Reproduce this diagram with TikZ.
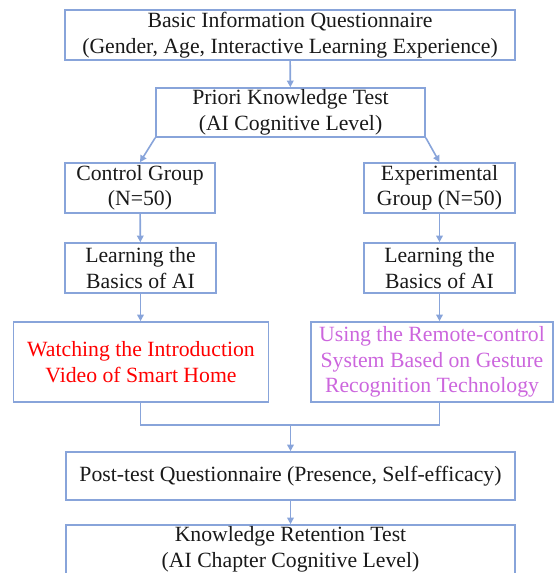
\documentclass[tikz,border=0pt]{standalone}
\usepackage{fontspec}
\setmainfont{Liberation Serif}
\usetikzlibrary{arrows.meta}
\definecolor{bordeazul}{RGB}{136,164,218}
\definecolor{textorojo}{RGB}{255,0,0}
\definecolor{textolila}{RGB}{204,102,221}
\begin{document}
\begin{tikzpicture}[x=0.75pt, y=-0.75pt,
    caja/.style={draw=bordeazul, line width=1.2pt, align=center, inner sep=0pt,
        font=\fontsize{16.3}{19.1}\selectfont, text=black!90},
    flecha/.style={draw=bordeazul, line width=1.2pt, -{Triangle[length=5pt,width=5pt]}},
    linea/.style={draw=bordeazul, line width=1.2pt}]
    \useasboundingbox (0,0) rectangle (556,573);
    \clip (0,0) rectangle (556,573);
    % Cuestionario y prueba previa
    \node[caja, minimum width=337.5pt, minimum height=37.5pt] (info) at (290,35)
        {Basic Information Questionnaire\\(Gender, Age, Interactive Learning Experience)};
    \node[caja, minimum width=201.75pt, minimum height=36.75pt] (prior) at (290.5,112.5)
        {Priori Knowledge Test\\(AI Cognitive Level)};
    % Grupos
    \node[caja, minimum width=112.5pt, minimum height=37.5pt] (ctrl) at (140,188)
        {Control Group\\(N=50)};
    \node[caja, minimum width=113.25pt, minimum height=37.5pt] (expt) at (439.5,188)
        {Experimental\\Group (N=50)};
    \node[caja, minimum width=113.25pt, minimum height=37.5pt] (learnL) at (140.5,268)
        {Learning the\\Basics of AI};
    \node[caja, minimum width=113.25pt, minimum height=37.5pt] (learnR) at (439.5,268)
        {Learning the\\Basics of AI};
    % Actividades
    \node[caja, text=textorojo, minimum width=191.25pt, minimum height=60pt] (watch) at (141,362)
        {Watching the Introduction\\Video of Smart Home};
    \node[caja, text=textolila, minimum width=181.5pt, minimum height=60pt] (gest) at (432,362)
        {Using the Remote-control\\System Based on Gesture\\Recognition Technology};
    % Pruebas finales
    \node[caja, minimum width=336.75pt, minimum height=36pt] (post) at (290.5,476)
        {Post-test Questionnaire (Presence, Self-efficacy)};
    \node[caja, minimum width=336.75pt, minimum height=36.75pt] (retain) at (290.5,549.5)
        {Knowledge Retention Test\\(AI Chapter Cognitive Level)};
    \coordinate (join) at (290.5,425);
    % Flechas
    \draw[flecha] (info) -- (prior);
    \draw[flecha] (prior.south west) -- (ctrl.north);
    \draw[flecha] (prior.south east) -- (expt.north);
    \draw[flecha] (ctrl) -- (learnL);
    \draw[flecha] (expt) -- (learnR);
    \draw[flecha] (learnL.south) -- (learnL.south |- watch.north);
    \draw[flecha] (learnR.south) -- (learnR.south |- gest.north);
    \draw[linea] (learnL.south |- watch.south) -- (learnL.south |- join)
        -- (learnR.south |- join) -- (learnR.south |- gest.south);
    \draw[flecha] (join) -- (post);
    \draw[flecha] (post) -- (retain);
\end{tikzpicture}
\end{document}
